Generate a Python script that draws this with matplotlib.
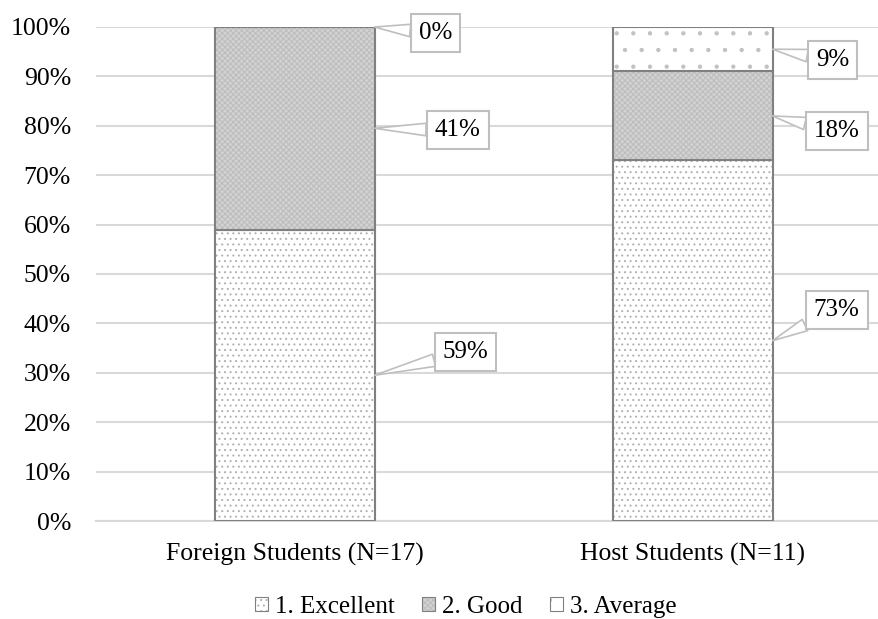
import matplotlib
matplotlib.use("Agg")
import matplotlib.pyplot as plt
from matplotlib.ticker import FuncFormatter

plt.rcParams['font.family'] = ['Liberation Serif', 'DejaVu Serif']
plt.rcParams['hatch.linewidth'] = 0.7

groups = ["Foreign Students (N=17)", "Host Students (N=11)"]
ratings = ["1. Excellent", "2. Good", "3. Average"]
excellent = [59, 73]
good = [41, 18]
average = [0, 9]

# offsets (pixels) of the callout boxes from each segment's anchor
label_offsets = {
    (0, 0): (91, 23), (0, 1): (83, -2), (0, 2): (61, -6),
    (1, 0): (64, 31), (1, 1): (64, -15), (1, 2): (60, -11),
}

styles = [
    dict(facecolor="white", hatch="...", hatch_color="#b0b0b0"),
    dict(facecolor="#d2d2d2", hatch="xxxxxx", hatch_color="#bcbcbc"),
    dict(facecolor="white", hatch=".", hatch_color="#c2c2c2"),
]

fig = plt.figure(figsize=(8.79, 6.19), dpi=100)
ax = fig.add_axes([96 / 879, 98 / 619, 796 / 879, 494 / 619])

x = list(range(len(groups)))
width = 0.4
series = [excellent, good, average]
bottoms = [0, 0]
containers = []
for vals, name, st in zip(series, ratings, styles):
    bars = ax.bar(x, vals, width, bottom=bottoms, label=name,
                  facecolor=st["facecolor"], edgecolor="#808080",
                  linewidth=1.5, hatch=st["hatch"], zorder=3)
    for b in bars:
        b._hatch_color = matplotlib.colors.to_rgba(st["hatch_color"])
    containers.append((bars, vals, list(bottoms)))
    bottoms = [b + v for b, v in zip(bottoms, vals)]

for si, (bars, vals, bots) in enumerate(containers):
    for gi, (v, b0) in enumerate(zip(vals, bots)):
        ax_x = x[gi] + width / 2
        ax_y = b0 + v / 2
        dx, dy = label_offsets[(gi, si)]
        ax.annotate(f"{v}%", xy=(ax_x, ax_y), xytext=(dx, dy),
                    textcoords="offset pixels", ha="center", va="center",
                    fontsize=18, color="black", zorder=5,
                    bbox=dict(boxstyle="square,pad=0.32", fc="white",
                              ec="#bfbfbf", lw=1.5),
                    arrowprops=dict(arrowstyle="wedge,tail_width=0.5,shrink_factor=0.5",
                                    fc="white", ec="#bfbfbf", lw=1.2,
                                    shrinkA=0, shrinkB=0))

ax.set_xlim(-0.5, 1.5)
ax.set_ylim(0, 100)
ax.set_yticks(range(0, 101, 10))
ax.yaxis.set_major_formatter(FuncFormatter(lambda v, p: f"{int(v)}%"))
ax.set_xticks(x)
ax.set_xticklabels(groups)
ax.tick_params(axis="both", length=0, labelsize=18.5, colors="black")
ax.tick_params(axis="x", pad=16)
ax.tick_params(axis="y", pad=18)
ax.grid(axis="y", color="#d9d9d9", linewidth=1.5, zorder=0)
for s in ["top", "right", "left"]:
    ax.spines[s].set_visible(False)
ax.spines["bottom"].set_color("#d9d9d9")
ax.spines["bottom"].set_linewidth(1.5)

leg = fig.legend(loc="center", bbox_to_anchor=(466 / 879, 1 - 607 / 619),
                 ncol=3, frameon=False, fontsize=18, handlelength=0.5,
                 handleheight=0.5, handletextpad=0.3, columnspacing=1.1)
for h in leg.legend_handles:
    h.set_linewidth(0.8)

fig.savefig("out.png", dpi=100)
